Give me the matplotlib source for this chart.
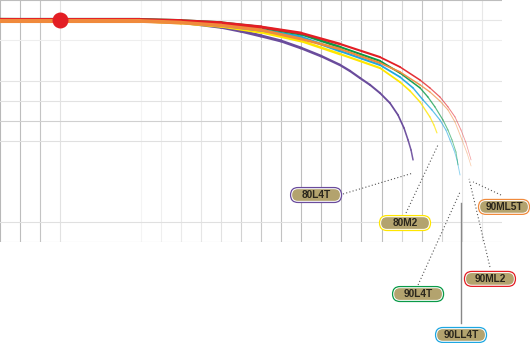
import numpy as np
import matplotlib.pyplot as plt
from matplotlib.collections import LineCollection
from matplotlib.patches import FancyBboxPatch

# curve data (x in grid units 0..25, y in grid units 0..12, y grows downward)
x_80l4t = [0, 6.97, 9.01, 11.01, 12.0, 13.0, 13.99, 14.99, 15.99, 16.93, 17.43, 17.93, 18.43, 18.92, 19.42,
           19.82, 20.12, 20.32, 20.47, 20.57]
y_80l4t = [0.99, 1.02, 1.09, 1.34, 1.54, 1.78, 2.03, 2.38, 2.78, 3.22, 3.52, 3.87, 4.21, 4.61, 5.11,
           5.70, 6.35, 6.94, 7.44, 7.93]

x_80m2 = [0, 6.97, 9.01, 11.01, 13.0, 14.99, 16.93, 18.92, 19.92, 20.42, 20.92, 21.41, 21.61, 21.76]
y_80m2 = [0.99, 1.02, 1.12, 1.29, 1.59, 2.03, 2.68, 3.37, 4.07, 4.51, 5.06, 5.80, 6.20, 6.59]

x_90ll4t = [0, 6.97, 9.01, 11.01, 13.0, 14.99, 16.93, 18.92, 19.92, 20.57, 21.07, 21.51, 21.91, 22.21, 22.41, 22.61, 22.76, 22.91]
y_90ll4t = [0.99, 0.99, 1.09, 1.24, 1.49, 1.83, 2.53, 3.22, 3.82, 4.36, 4.96, 5.45, 5.95, 6.45, 6.94, 7.44, 7.93, 8.68]

x_90l4t = [0, 6.97, 9.01, 11.01, 13.0, 14.99, 16.93, 18.92, 19.92, 20.92, 21.31, 21.66, 22.06, 22.31, 22.51, 22.71, 22.81]
y_90l4t = [0.99, 0.99, 1.04, 1.14, 1.36, 1.69, 2.33, 3.02, 3.62, 4.36, 4.81, 5.30, 5.95, 6.45, 6.94, 7.54, 8.18]

x_90ml2 = [0, 6.97, 9.01, 11.01, 13.0, 14.99, 16.93, 18.92, 19.92, 20.92, 21.41, 21.91, 22.31, 22.66, 22.96, 23.21, 23.46]
y_90ml2 = [0.99, 0.99, 1.04, 1.14, 1.34, 1.64, 2.18, 2.83, 3.32, 3.97, 4.36, 4.81, 5.30, 5.80, 6.45, 7.09, 7.93]

x_90ml5t = [0, 6.97, 9.01, 11.01, 13.0, 14.99, 16.93, 18.92, 19.92, 20.92, 21.41, 21.91, 22.31, 22.66, 23.01, 23.26, 23.46]
y_90ml5t = [1.04, 1.04, 1.12, 1.26, 1.49, 1.93, 2.43, 3.12, 3.57, 4.21, 4.56, 5.01, 5.45, 6.05, 6.94, 7.59, 8.23]

names = ["80L4T", "80M2", "90LL4T", "90L4T", "90ML2", "90ML5T"]
colors = ["#6a4c9c", "#ffe600", "#1ea7e1", "#0a9a48", "#e31e24", "#f08a3c"]
curves = [(x_80l4t, y_80l4t), (x_80m2, y_80m2), (x_90ll4t, y_90ll4t),
          (x_90l4t, y_90l4t), (x_90ml2, y_90ml2), (x_90ml5t, y_90ml5t)]

# label centre, leader start, leader end
label_pos = [(15.74, 9.67), (20.17, 11.06), (22.96, 16.61), (20.82, 14.58), (24.40, 13.83), (25.10, 10.26)]
leader_from = [(17.08, 9.62), (20.22, 10.56), (22.96, 16.01), (20.82, 14.13), (24.40, 13.24), (24.95, 9.67)]
leader_to = [(20.57, 8.58), (21.81, 7.19), (22.96, 10.06), (22.91, 9.52), (23.36, 8.87), (23.56, 9.02)]

dot_x, dot_y = 2.99, 0.99

# grid
vgrid_x = list(range(0, 26))
vgrid_c = ["#b8b8b8", "#bdbdbd", "#c4c4c4", "#e2e2e2", "#ffffff", "#ffffff", "#ffffff", "#f4f4f4",
           "#efefef", "#eaeaea", "#e6e6e6", "#e2e2e2", "#d2d2d2", "#c8c8c8", "#c2c2c2", "#bdbdbd",
           "#bdbdbd", "#bdbdbd", "#bdbdbd", "#bdbdbd", "#d6d6d6", "#c4c4c4", "#d4d4d4", "#e4e4e4",
           "#e8e8e8", "#ffffff"]
hgrid_y = [0, 1, 2, 4, 5, 6, 7, 11, 12]
hgrid_c = ["#bdbdbd", "#e6e6e6", "#eeeeee", "#e4e4e4", "#e2e2e2", "#d0d0d0", "#e0e0e0", "#e0e0e0", "#d0d0d0"]

fig = plt.figure(figsize=(5.30, 3.43), dpi=100)
ax = fig.add_axes([0, 1 - 242 / 343, 502 / 530, 242 / 343])
ax.set_xlim(0, 25)
ax.set_ylim(12, 0)
ax.axis("off")

for gx, gc in zip(vgrid_x, vgrid_c):
    ax.axvline(gx, color=gc, lw=0.8, zorder=0)
for gy, gc in zip(hgrid_y, hgrid_c):
    ax.axhline(gy, color=gc, lw=0.8, zorder=0)

# tapered curves, thick on the left and thin at the end
for i, ((cx, cy), col) in enumerate(zip(curves, colors)):
    pts = np.column_stack([cx, cy])
    segs = np.stack([pts[:-1], pts[1:]], axis=1)
    mid = (pts[:-1, 0] + pts[1:, 0]) / 2
    frac = mid / 23.5
    widths = 3.0 - 2.5 * frac ** 2
    alphas = np.clip(1.0 - 0.6 * np.clip((frac - 0.85) / 0.15, 0, 1), 0.3, 1)
    lc = LineCollection(segs, colors=col, linewidths=widths,
                        capstyle="round", joinstyle="round", zorder=2 + i)
    lc.set_alpha(alphas)
    ax.add_collection(lc)

ax.scatter([dot_x], [dot_y], s=110, color="#e31e24", zorder=10, clip_on=False)

box_w, box_h = 2.54, 0.74
for name, col, (lx, ly), (fx, fy), (tx, ty) in zip(names, colors, label_pos, leader_from, leader_to):
    if name == "90LL4T":
        ax.plot([fx, tx], [fy, ty], color="#888888", lw=1.0, clip_on=False, zorder=1)
    else:
        ax.plot([fx, tx], [fy, ty], color="#555555", lw=0.8, ls=(0, (1, 2)), clip_on=False, zorder=1)
    outer = FancyBboxPatch((lx - box_w / 2, ly - box_h / 2), box_w, box_h,
                           boxstyle="round,pad=0,rounding_size=%f" % (box_h / 2),
                           fc="white", ec=col, lw=0.9, clip_on=False, zorder=11)
    iw, ih = box_w - 0.16, box_h - 0.16
    inner = FancyBboxPatch((lx - iw / 2, ly - ih / 2), iw, ih,
                           boxstyle="round,pad=0,rounding_size=%f" % (ih / 2),
                           fc="#b3a36e", ec="none", clip_on=False, zorder=12)
    ax.add_patch(outer)
    ax.add_patch(inner)
    ax.text(lx, ly, name, ha="center", va="center", fontsize=7.3, color="#2a261c",
            family="Liberation Sans", fontweight="bold", clip_on=False, zorder=13)

fig.savefig("out.png", dpi=100)
